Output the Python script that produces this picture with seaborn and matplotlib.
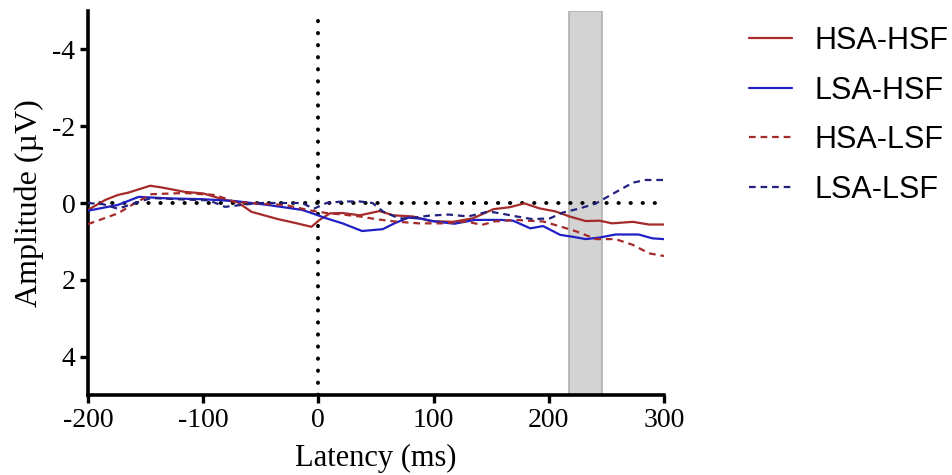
import pandas as pd
import matplotlib
matplotlib.use("Agg")
import matplotlib.pyplot as plt
import seaborn as sns
from matplotlib.lines import Line2D

# ERP waveforms (latency in ms, amplitude in uV, positive down)
hsa_hsf_ms = [-200, -185, -174, -165, -146, -135, -116, -100, -81, -70, -58, -35, -20, -6, 1, 10, 21, 36,
              53, 65, 82, 97, 117, 134, 152, 166, 179, 192, 206, 218, 232, 244, 255, 273, 287, 300]
hsa_hsf_uv = [0.18, -0.08, -0.21, -0.27, -0.45, -0.40, -0.29, -0.25, -0.08, -0.02, 0.23, 0.42, 0.52, 0.62,
              0.44, 0.27, 0.26, 0.32, 0.21, 0.32, 0.35, 0.47, 0.49, 0.40, 0.16, 0.11, 0.01, 0.14, 0.22,
              0.35, 0.47, 0.46, 0.53, 0.49, 0.56, 0.56]

lsa_hsf_ms = [-200, -174, -156, -130, -101, -72, -44, -14, -7, 7, 21, 38, 56, 66, 78, 90, 101, 118, 136,
              150, 158, 169, 184, 195, 210, 221, 232, 244, 258, 278, 290, 300]
lsa_hsf_uv = [0.2, 0.05, -0.16, -0.12, -0.10, -0.05, 0.05, 0.18, 0.25, 0.40, 0.53, 0.73, 0.68, 0.53, 0.38,
              0.41, 0.48, 0.54, 0.44, 0.44, 0.44, 0.46, 0.66, 0.60, 0.83, 0.88, 0.94, 0.90, 0.82, 0.82,
              0.92, 0.94]

hsa_lsf_ms = [-200, -174, -159, -145, -116, -90, -72, -50, -29, -6, 7, 21, 36, 50, 66, 87, 107, 128, 142,
              153, 172, 181, 195, 210, 224, 241, 258, 273, 287, 300]
hsa_lsf_uv = [0.55, 0.27, 0.0, -0.23, -0.26, -0.21, -0.03, 0.02, 0.05, 0.20, 0.26, 0.30, 0.35, 0.42, 0.48,
              0.53, 0.53, 0.48, 0.57, 0.48, 0.44, 0.46, 0.48, 0.61, 0.74, 0.94, 0.94, 1.09, 1.31, 1.38]

lsa_lsf_ms = [-200, -187, -174, -159, -145, -116, -95, -81, -67, -52, -14, -4, 7, 21, 36, 47, 56, 70, 78,
              96, 113, 130, 148, 158, 172, 186, 201, 212, 227, 241, 255, 273, 284, 300]
lsa_lsf_uv = [0.0, 0.03, 0.15, 0.0, -0.13, -0.09, -0.07, 0.10, 0.05, 0.0, 0.0, 0.15, 0.0, -0.04, -0.04,
              0.0, 0.22, 0.40, 0.40, 0.33, 0.30, 0.35, 0.22, 0.27, 0.35, 0.42, 0.40, 0.25, 0.14, 0.01,
              -0.23, -0.53, -0.60, -0.60]

window_ms = [218, 246]
x_ticks = [-200, -100, 0, 100, 200, 300]
y_ticks = [-4, -2, 0, 2, 4]

series = [
    ("HSA-HSF", hsa_hsf_ms, hsa_hsf_uv, "#A52A2A", "-"),
    ("LSA-HSF", lsa_hsf_ms, lsa_hsf_uv, "#2020C4", "-"),
    ("HSA-LSF", hsa_lsf_ms, hsa_lsf_uv, "#A52A2A", "--"),
    ("LSA-LSF", lsa_lsf_ms, lsa_lsf_uv, "#22227E", "--"),
]

sns.set_style("ticks")
plt.rcParams['font.family'] = ['Liberation Serif', 'DejaVu Serif']
plt.rcParams['axes.unicode_minus'] = False
plt.rcParams['text.color'] = 'black'
plt.rcParams['axes.labelcolor'] = 'black'
plt.rcParams['xtick.color'] = 'black'
plt.rcParams['ytick.color'] = 'black'

fig = plt.figure(figsize=(9.53, 4.75), dpi=100)
ax = fig.add_axes([0.0923, 0.1684, 0.6044, 0.8084])

# analysis window
ax.axvspan(window_ms[0], window_ms[1], facecolor="#D3D3D3", edgecolor="#B0B0B0", lw=1.2, zorder=0)

# reference lines
dot = (0, (0.1, 3.0))
ax.axhline(0, color="black", lw=2.8, ls=dot, dash_capstyle="round", zorder=1)
ax.axvline(0, color="black", lw=2.8, ls=dot, dash_capstyle="round", zorder=1)

handles = []
for name, ms, uv, col, ls in series:
    df = pd.DataFrame({"Latency": ms, "Amplitude": uv})
    line_ls = "-" if ls == "-" else (0, (3, 2.2))
    sns.lineplot(data=df, x="Latency", y="Amplitude", ax=ax, color=col, lw=1.6,
                 linestyle=line_ls, estimator=None, sort=False, zorder=3)
    handles.append(Line2D([0], [0], color=col, lw=1.6, linestyle=line_ls, label=name))

ax.set_xlim(-200, 300)
ax.set_ylim(5, -5)
ax.set_xticks(x_ticks)
ax.set_yticks(y_ticks)
ax.set_xlabel("Latency (ms)", fontsize=22, labelpad=8)
ax.set_ylabel("Amplitude (µV)", fontsize=23, labelpad=6)
ax.tick_params(axis="both", labelsize=20, width=2.4, length=6, color="black", pad=3)
for s in ["left", "bottom"]:
    ax.spines[s].set_linewidth(2.6)
    ax.spines[s].set_color("black")
sns.despine(ax=ax)

fig.legend(handles=handles, loc="upper left", bbox_to_anchor=(0.757, 1.003), frameon=False,
           prop={"family": "Liberation Sans", "size": 22}, handlelength=1.4, handletextpad=0.75,
           labelspacing=0.64)

fig.savefig("out.png", dpi=100)
